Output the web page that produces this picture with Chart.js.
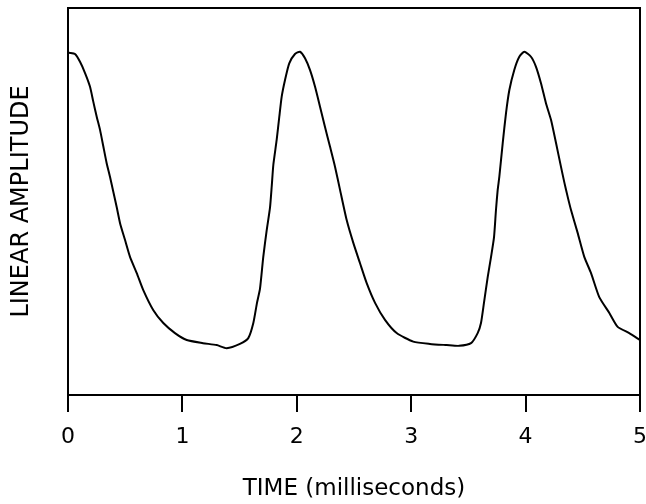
<!DOCTYPE html>
<html>
<head>
<meta charset="utf-8">
<title>Linear amplitude vs time</title>
<script src="https://cdn.jsdelivr.net/npm/chart.js@4/dist/chart.umd.min.js"></script>
<style>
  html, body { margin: 0; padding: 0; background: #ffffff; }
  #wrap { width: 646px; height: 504px; }
</style>
</head>
<body>
<div id="wrap"><canvas id="grafica" width="646" height="504"></canvas></div>
<script>
// time axis (ms) and amplitude (arbitrary units, 0..100 = plot height)
const timeMs = [
  0, 0.017, 0.061, 0.105, 0.149, 0.192, 0.221, 0.251, 0.280, 0.309, 0.338, 0.367, 0.396,
  0.426, 0.455, 0.498, 0.542, 0.601, 0.658, 0.746, 0.833, 0.935, 1.038, 1.180, 1.300,
  1.387, 1.503, 1.576, 1.620, 1.652, 1.678, 1.707, 1.737, 1.766, 1.781, 1.795, 1.824,
  1.847, 1.868, 1.897, 1.934, 1.984, 2.028, 2.072, 2.115, 2.159, 2.203, 2.246, 2.290,
  2.334, 2.378, 2.436, 2.494, 2.552, 2.611, 2.684, 2.771, 2.873, 3.018, 3.164, 3.310,
  3.418, 3.523, 3.581, 3.610, 3.636, 3.669, 3.698, 3.724, 3.741, 3.756, 3.770, 3.800,
  3.829, 3.858, 3.901, 3.945, 3.989, 4.047, 4.091, 4.135, 4.178, 4.222, 4.266, 4.309,
  4.338, 4.368, 4.397, 4.455, 4.513, 4.572, 4.644, 4.732, 4.805, 4.906, 5.0
];
const amplitude = [
  88.4, 88.4, 88.1, 86.1, 83.2, 79.7, 75.8, 71.9, 68.5, 64.2, 59.9, 56.4, 52.5,
  48.5, 44.4, 40.1, 35.7, 31.5, 27.1, 21.9, 18.6, 16.0, 14.2, 13.4, 12.9,
  12.1, 13.2, 14.7, 18.6, 23.8, 27.4, 35.7, 42.6, 48.5, 54.0, 59.5, 65.9,
  71.9, 77.1, 81.4, 85.7, 88.1, 88.7, 87.0, 84.0, 79.7, 74.5, 69.3, 64.2,
  59.0, 53.0, 45.2, 39.3, 34.1, 28.9, 23.8, 19.4, 16.0, 13.8, 13.2, 12.9,
  12.7, 13.4, 16.0, 18.6, 23.8, 30.5, 35.7, 40.8, 47.8, 53.0, 56.3, 65.1,
  72.9, 78.8, 84.0, 87.4, 88.7, 87.4, 84.8, 80.5, 75.4, 71.1, 65.1, 59.0,
  55.0, 51.2, 47.8, 41.9, 35.7, 31.5, 25.3, 21.2, 17.6, 16.0, 14.2
];
const xTicks = [0, 1, 2, 3, 4, 5];

const puntos = timeMs.map((t, i) => ({ x: t, y: amplitude[i] }));

// frame around the plot area (top and right edges, like the original box)
const marco = {
  id: 'marco',
  afterDraw(chart) {
    const { ctx, chartArea: a } = chart;
    ctx.save();
    ctx.strokeStyle = '#000000';
    ctx.lineWidth = 2;
    ctx.strokeRect(a.left, a.top, a.right - a.left, a.bottom - a.top);
    ctx.restore();
  }
};

const fuente = "'DejaVu Sans', sans-serif";

new Chart(document.getElementById('grafica'), {
  type: 'line',
  data: {
    datasets: [{
      data: puntos,
      borderColor: '#000000',
      borderWidth: 2,
      pointRadius: 0,
      tension: 0.2,
      fill: false
    }]
  },
  options: {
    responsive: false,
    animation: false,
    layout: { padding: { top: 8, right: 6, left: 0, bottom: 0 } },
    plugins: {
      legend: { display: false },
      tooltip: { enabled: false }
    },
    scales: {
      x: {
        type: 'linear',
        min: 0,
        max: 5,
        afterBuildTicks: axis => { axis.ticks = xTicks.map(v => ({ value: v })); },
        afterFit: axis => {
          axis.height = 109;
          axis.paddingLeft = 0;
          axis.paddingRight = 0;
        },
        grid: {
          display: true,
          drawOnChartArea: false,
          drawTicks: true,
          tickLength: 17,
          color: '#000000',
          lineWidth: 2
        },
        border: { display: true, color: '#000000', width: 2 },
        ticks: {
          color: '#000000',
          padding: 12,
          maxRotation: 0,
          font: { family: fuente, size: 22 }
        },
        title: {
          display: true,
          text: 'TIME (milliseconds)',
          color: '#000000',
          padding: { top: 0, bottom: 1 },
          font: { family: fuente, size: 23 }
        }
      },
      y: {
        min: 0,
        max: 100,
        afterFit: axis => { axis.width = 68; },
        grid: { display: false },
        border: { display: true, color: '#000000', width: 2 },
        ticks: { display: false },
        title: {
          display: true,
          text: 'LINEAR AMPLITUDE',
          color: '#000000',
          padding: { top: 7, bottom: 0 },
          font: { family: fuente, size: 24 }
        }
      }
    }
  },
  plugins: [marco]
});
</script>
</body>
</html>
